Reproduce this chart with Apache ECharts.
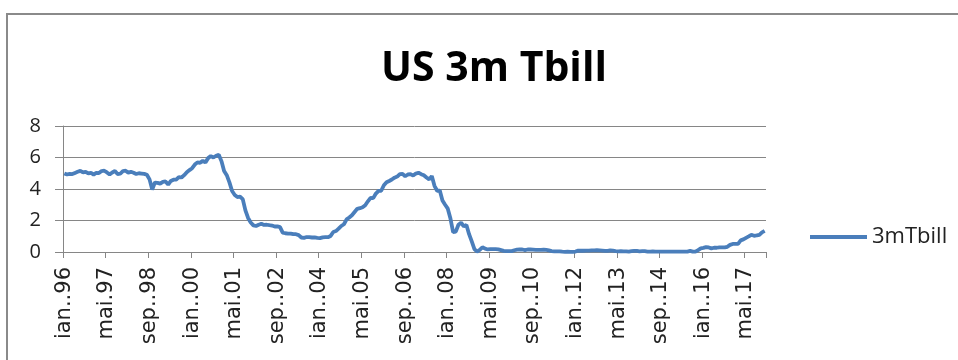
<!DOCTYPE html>
<html>
<head>
<meta charset="utf-8">
<script src="https://cdn.jsdelivr.net/npm/echarts@6/dist/echarts.min.js"></script>
<style>
html,body{margin:0;padding:0;background:#fff;}
#chart{width:958px;height:360px;}
</style>
</head>
<body>
<div id="chart"></div>
<script>
// Month abbreviations (Romanian, as in the source axis)
var monthNames = ['ian..','feb..','mar..','apr..','mai.','iun..','iul..','aug..','sep..','oct..','noi..','dec..'];
var years = [1996,1997,1998,1999,2000,2001,2002,2003,2004,2005,2006,2007,2008,2009,2010,2011,2012,2013,2014,2015,2016,2017];
var seriesName = '3mTbill';
var titleText = 'US 3m Tbill';
var yTicks = [0, 2, 4, 6, 8];

// Monthly values per year
var v1996 = [4.99,4.92,4.96,4.95,5.02,5.09,5.15,5.05,5.09,4.99,5.03,4.91];
var v1997 = [5.03,5.01,5.14,5.16,5.05,4.93,5.05,5.14,4.95,4.97,5.14,5.16];
var v1998 = [5.04,5.09,5.03,4.95,5.00,4.98,4.96,4.90,4.61,3.96,4.41,4.39];
var v1999 = [4.34,4.45,4.48,4.28,4.51,4.59,4.60,4.76,4.73,4.88,5.07,5.20];
var v2000 = [5.32,5.55,5.69,5.66,5.79,5.69,5.96,6.09,6.00,6.11,6.17,5.77];
var v2001 = [5.15,4.88,4.42,3.87,3.62,3.49,3.51,3.36,2.64,2.16,1.87,1.69];
var v2002 = [1.65,1.73,1.79,1.72,1.73,1.70,1.68,1.62,1.63,1.58,1.23,1.19];
var v2003 = [1.17,1.17,1.13,1.13,1.07,0.92,0.90,0.95,0.94,0.92,0.93,0.90];
var v2004 = [0.88,0.93,0.94,0.94,1.02,1.27,1.33,1.48,1.65,1.76,2.07,2.19];
var v2005 = [2.33,2.54,2.74,2.78,2.84,2.97,3.22,3.44,3.42,3.71,3.88,3.89];
var v2006 = [4.24,4.43,4.51,4.60,4.72,4.79,4.95,4.96,4.81,4.92,4.94,4.85];
var v2007 = [4.98,5.03,4.94,4.87,4.73,4.61,4.82,4.20,3.89,3.90,3.27,3.00];
var v2008 = [2.75,2.12,1.26,1.29,1.73,1.86,1.63,1.72,1.13,0.67,0.19,0.03];
var v2009 = [0.13,0.30,0.21,0.16,0.18,0.18,0.18,0.17,0.12,0.07,0.05,0.05];
var v2010 = [0.06,0.11,0.15,0.16,0.16,0.12,0.16,0.16,0.15,0.13,0.14,0.14];
var v2011 = [0.15,0.13,0.10,0.06,0.04,0.04,0.04,0.02,0.01,0.02,0.01,0.01];
var v2012 = [0.03,0.09,0.08,0.08,0.09,0.09,0.10,0.10,0.11,0.10,0.09,0.07];
var v2013 = [0.07,0.10,0.09,0.06,0.04,0.05,0.04,0.04,0.02,0.05,0.07,0.07];
var v2014 = [0.04,0.05,0.05,0.03,0.03,0.04,0.03,0.03,0.02,0.02,0.02,0.03];
var v2015 = [0.03,0.02,0.03,0.02,0.02,0.02,0.03,0.07,0.02,0.02,0.12,0.23];
var v2016 = [0.26,0.31,0.29,0.23,0.27,0.27,0.30,0.30,0.29,0.33,0.45,0.51];
var v2017 = [0.51,0.52,0.74,0.80,0.90,0.99,1.09,1.03,1.05,1.09,1.25,1.34];

var yearValues = [v1996,v1997,v1998,v1999,v2000,v2001,v2002,v2003,v2004,v2005,v2006,v2007,
                  v2008,v2009,v2010,v2011,v2012,v2013,v2014,v2015,v2016,v2017];

var categories = [];
var values = [];
years.forEach(function (y, i) {
  var yy = String(y).slice(2);
  for (var m = 0; m < 12; m++) {
    categories.push(monthNames[m] + yy);
    values.push(yearValues[i][m]);
  }
});

var chart = echarts.init(document.getElementById('chart'), null, {renderer: 'canvas'});
var gray = '#868686';
chart.setOption({
  backgroundColor: '#ffffff',
  animation: false,
  graphic: [{
    type: 'rect',
    shape: {x: 7, y: 14, width: 1000, height: 400},
    style: {fill: null, stroke: '#8a8a8a', lineWidth: 2},
    silent: true,
    z: -1
  }],
  title: {
    text: titleText,
    left: 489,
    top: 44,
    textAlign: 'center',
    textStyle: {
      fontFamily: '"Open Sans", sans-serif',
      fontWeight: 'bold',
      fontSize: 41,
      color: '#000'
    }
  },
  legend: {
    data: [seriesName],
    left: 805,
    top: 221,
    icon: 'rect',
    itemWidth: 57,
    itemHeight: 4,
    textStyle: {
      fontFamily: '"Open Sans", sans-serif',
      fontSize: 22,
      color: '#222'
    }
  },
  grid: {
    left: 63,
    right: 192,
    top: 126,
    bottom: 108,
    containLabel: false,
    outerBoundsMode: 'none'
  },
  xAxis: {
    type: 'category',
    data: categories,
    boundaryGap: true,
    axisLine: {show: true, lineStyle: {color: gray, width: 1}},
    axisTick: {show: true, interval: 15, length: 6, lineStyle: {color: gray}},
    axisLabel: {
      interval: 15,
      rotate: 90,
      margin: 15,
      fontFamily: '"DejaVu Sans", sans-serif',
      fontSize: 21,
      color: '#222'
    },
    splitLine: {show: false}
  },
  yAxis: {
    type: 'value',
    min: yTicks[0],
    max: yTicks[yTicks.length - 1],
    interval: 2,
    axisLine: {show: true, lineStyle: {color: gray, width: 1}},
    axisTick: {show: true, length: 8, lineStyle: {color: gray}},
    axisLabel: {
      margin: 22,
      fontFamily: '"Open Sans", sans-serif',
      fontSize: 20,
      color: '#222'
    },
    splitLine: {show: true, lineStyle: {color: gray, width: 1}}
  },
  series: [{
    name: seriesName,
    type: 'line',
    data: values,
    showSymbol: false,
    symbol: 'none',
    smooth: false,
    itemStyle: {color: '#4A7EBB'},
    lineStyle: {color: '#4A7EBB', width: 3.8}
  }]
});
</script>
</body>
</html>
